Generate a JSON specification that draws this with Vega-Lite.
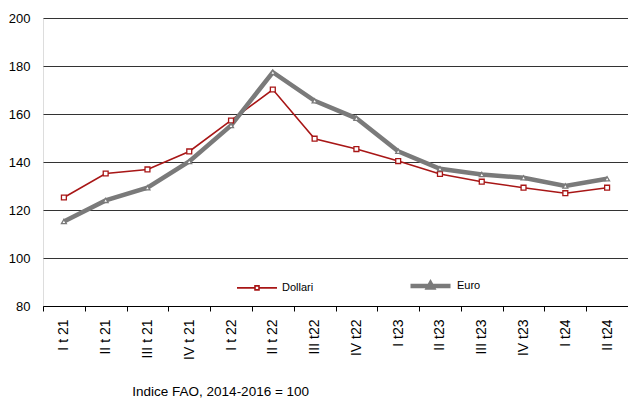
{
  "$schema": "https://vega.github.io/schema/vega-lite/v6.json",
  "width": 585,
  "height": 288,
  "autosize": {"type": "none"},
  "padding": {"left": 43, "top": 18, "right": 0, "bottom": 94},
  "background": "white",
  "title": {
    "text": "Indice FAO, 2014-2016 = 100",
    "orient": "bottom",
    "anchor": "start",
    "dx": 124,
    "offset": 26,
    "font": "Liberation Sans",
    "fontSize": 13.5,
    "fontWeight": "normal",
    "color": "#000"
  },
  "data": {
    "values": [
      {"t": "I t 21", "serie": "Dollari", "v": 125.2},
      {"t": "II t 21", "serie": "Dollari", "v": 135.2},
      {"t": "III t 21", "serie": "Dollari", "v": 136.9},
      {"t": "IV t 21", "serie": "Dollari", "v": 144.4},
      {"t": "I t 22", "serie": "Dollari", "v": 157.3},
      {"t": "II t 22", "serie": "Dollari", "v": 170.2},
      {"t": "III t22", "serie": "Dollari", "v": 149.7},
      {"t": "IV t22", "serie": "Dollari", "v": 145.4},
      {"t": "I t23", "serie": "Dollari", "v": 140.4},
      {"t": "II t23", "serie": "Dollari", "v": 135.0},
      {"t": "III t23", "serie": "Dollari", "v": 131.8},
      {"t": "IV t23", "serie": "Dollari", "v": 129.3},
      {"t": "I t24", "serie": "Dollari", "v": 127.0},
      {"t": "II t24", "serie": "Dollari", "v": 129.3},
      {"t": "I t 21", "serie": "Euro", "v": 115.2},
      {"t": "II t 21", "serie": "Euro", "v": 124.0},
      {"t": "III t 21", "serie": "Euro", "v": 129.3},
      {"t": "IV t 21", "serie": "Euro", "v": 140.2},
      {"t": "I t 22", "serie": "Euro", "v": 155.2},
      {"t": "II t 22", "serie": "Euro", "v": 177.4},
      {"t": "III t22", "serie": "Euro", "v": 165.5},
      {"t": "IV t22", "serie": "Euro", "v": 158.2},
      {"t": "I t23", "serie": "Euro", "v": 144.5},
      {"t": "II t23", "serie": "Euro", "v": 137.2},
      {"t": "III t23", "serie": "Euro", "v": 134.8},
      {"t": "IV t23", "serie": "Euro", "v": 133.4},
      {"t": "I t24", "serie": "Euro", "v": 130.0},
      {"t": "II t24", "serie": "Euro", "v": 133.0}
    ]
  },
  "encoding": {
    "x": {
      "field": "t",
      "type": "ordinal",
      "sort": null,
      "title": null,
      "scale": {"paddingInner": 0, "paddingOuter": 0},
      "axis": {
        "labelAngle": -90,
        "labelFont": "Liberation Sans",
        "labelFontSize": 14,
        "labelColor": "#000",
        "labelPadding": 8,
        "domainColor": "#000",
        "tickColor": "#000",
        "tickBand": "extent",
        "tickSize": 5,
        "grid": false
      }
    },
    "y": {
      "field": "v",
      "type": "quantitative",
      "title": null,
      "scale": {"domain": [80, 200], "nice": false, "zero": false},
      "axis": {
        "values": [80, 100, 120, 140, 160, 180, 200],
        "domain": false,
        "ticks": false,
        "labelPadding": 13,
        "labelFont": "Liberation Sans",
        "labelFontSize": 13,
        "labelColor": "#000",
        "grid": true,
        "gridColor": "#333",
        "gridWidth": 1
      }
    },
    "color": {
      "field": "serie",
      "type": "nominal",
      "scale": {"domain": ["Dollari", "Euro"], "range": ["#a81616", "#7a7a7a"]},
      "legend": {
        "title": null,
        "orient": "none",
        "direction": "horizontal",
        "legendX": 193,
        "legendY": 245,
        "symbolType": "stroke",
        "symbolSize": 1600,
        "labelFont": "Liberation Sans",
        "labelFontSize": 11,
        "labelColor": "#000",
        "labelOffset": 4,
        "columnPadding": 87,
        "encode": {
          "symbols": {
            "update": {
              "shape": {"signal": "datum.value === 'Dollari' ? 'M-1,0H-0.1M0.1,0H1M-0.1,-0.1H0.1V0.1H-0.1Z' : 'M-1,0H1M0,-0.12L0.11,0.08H-0.11Z'"},
              "fill": {"value": "white"}
            }
          }
        }
      }
    }
  },
  "layer": [
    {
      "mark": {"type": "line", "strokeJoin": "miter"},
      "encoding": {
        "strokeWidth": {
          "field": "serie",
          "type": "nominal",
          "scale": {"domain": ["Dollari", "Euro"], "range": [1.6, 4.5]},
          "legend": {
            "title": null,
            "orient": "none",
            "direction": "horizontal",
            "legendX": 193,
            "legendY": 245,
            "symbolType": "stroke",
            "symbolSize": 1600,
            "labelFont": "Liberation Sans",
            "labelFontSize": 11,
            "labelColor": "#000",
            "labelOffset": 4,
            "columnPadding": 87
          }
        }
      }
    },
    {
      "mark": {"type": "point", "filled": false, "fill": "white", "opacity": 1, "strokeWidth": 1.3},
      "encoding": {
        "shape": {
          "condition": {"test": "datum.serie === 'Dollari'", "value": "square"},
          "value": "triangle-up"
        },
        "size": {"value": 24}
      }
    }
  ]
}
